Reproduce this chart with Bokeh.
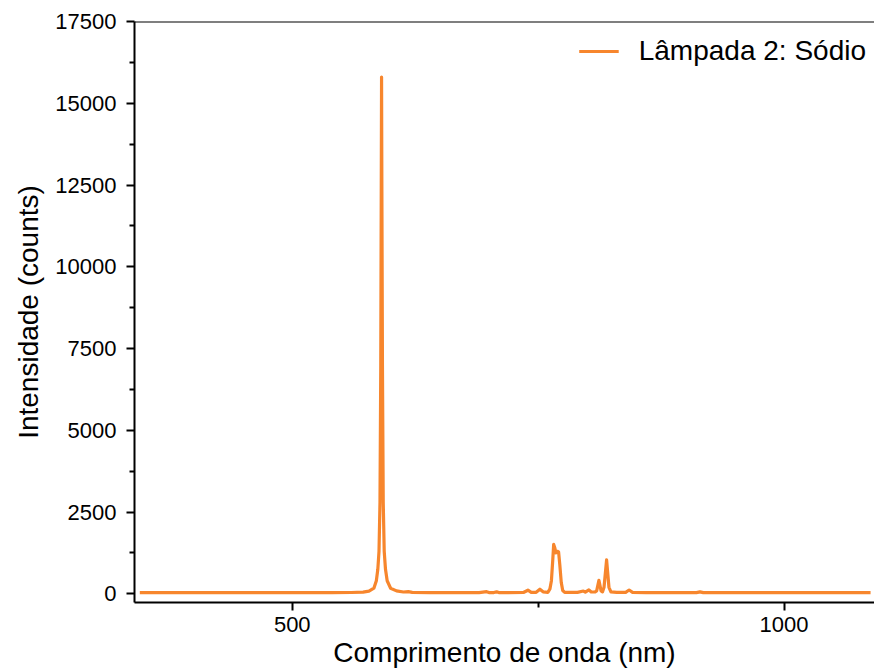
from bokeh.plotting import figure
from bokeh.models import Range1d, FixedTicker, Legend, LegendItem, Span, ColumnDataSource
from bokeh.embed import file_html
from bokeh.resources import INLINE

# Sodium lamp emission spectrum (wavelength in nm, intensity in counts)
wavelength = [
    345, 400, 450, 500, 540, 560, 572, 578, 583, 585.5, 587, 588.2, 589.2,
    590.0, 590.5, 590.8, 591.1, 591.7, 592.5, 593.5, 594.8, 596.5, 600, 606,
    613, 618, 622, 640, 690, 697.6, 700, 705, 707.8, 710, 735, 739.6, 743,
    748, 751.8, 755, 760, 762, 763.5, 764.8, 765.8, 767.0, 768.0, 769.5,
    770.8, 772, 773.5, 775, 777, 790, 796, 798, 801.6, 804, 808, 809.5,
    811.8, 814, 815.5, 817, 819.6, 822, 824, 830, 839, 842.5, 846, 860, 900,
    911, 914.5, 918, 1000, 1088,
]
intensity = [
    35, 35, 35, 35, 38, 40, 50, 80, 170, 400, 750, 1300, 2800,
    7000, 12500, 15800, 12500, 7000, 2800, 1300, 750, 400, 170, 90,
    55, 65, 45, 38, 38, 65, 38, 38, 60, 38, 40, 110, 42,
    45, 140, 60, 45, 150, 400, 1000, 1510, 1400, 1250, 1300,
    1280, 900, 350, 100, 45, 45, 85, 50, 120, 55, 60, 90,
    410, 90, 60, 200, 1040, 200, 60, 45, 45, 115, 45, 38, 35,
    35, 60, 35, 35, 35,
]

y_ticks = [0, 2500, 5000, 7500, 10000, 12500, 15000, 17500]
y_minor = [1250, 3750, 6250, 8750, 11250, 13750, 16250]
x_ticks = [500, 1000]
x_minor = [750]

LINE_COLOR = "#F7862D"
FONT = "Liberation Sans"

source = ColumnDataSource(data=dict(wl=wavelength, counts=intensity))

p = figure(
    width=874, height=670,
    x_range=Range1d(339.6, 1092), y_range=Range1d(-266, 17500),
    output_backend="svg", toolbar_location=None,
    min_border_left=134, min_border_right=0, min_border_top=21, min_border_bottom=68,
)
p.outline_line_color = None
p.xgrid.grid_line_color = None
p.ygrid.grid_line_color = None
p.background_fill_color = "white"
p.border_fill_color = "white"

r = p.line("wl", "counts", source=source, line_color=LINE_COLOR, line_width=3.2,
           line_join="round")

# top border line of the frame
p.add_layout(Span(location=17500, dimension="width", line_color="black", line_width=2))

for ax in (p.xaxis[0], p.yaxis[0]):
    ax.axis_line_width = 2
    ax.axis_line_color = "black"
    ax.major_tick_line_width = 2
    ax.minor_tick_line_width = 2
    ax.major_tick_in = 0
    ax.major_tick_out = 8
    ax.minor_tick_in = 0
    ax.minor_tick_out = 5
    ax.major_label_text_font = FONT
    ax.major_label_text_font_size = "22px"
    ax.major_label_text_color = "black"
    ax.axis_label_text_font = FONT
    ax.axis_label_text_font_size = "28px"
    ax.axis_label_text_font_style = "normal"
    ax.axis_label_text_color = "black"

p.xaxis.ticker = FixedTicker(ticks=x_ticks, minor_ticks=x_minor)
p.yaxis.ticker = FixedTicker(ticks=y_ticks, minor_ticks=y_minor)
p.xaxis.axis_label = "Comprimento de onda (nm)"
p.yaxis.axis_label = "Intensidade (counts)"
p.xaxis.major_label_standoff = 6
p.xaxis.axis_label_standoff = 2
p.yaxis.major_label_standoff = 10
p.yaxis.axis_label_standoff = 8

legend = Legend(
    items=[LegendItem(label="Lâmpada 2: Sódio", renderers=[r])],
    location="top_right",
    border_line_color=None,
    background_fill_alpha=0,
    label_text_font=FONT,
    label_text_font_size="28px",
    label_text_color="black",
    glyph_width=40,
    glyph_height=44,
    label_height=44,
    label_standoff=20,
    margin=8,
    padding=0,
)
p.add_layout(legend)

open("out.html", "w").write(file_html(p, INLINE))
